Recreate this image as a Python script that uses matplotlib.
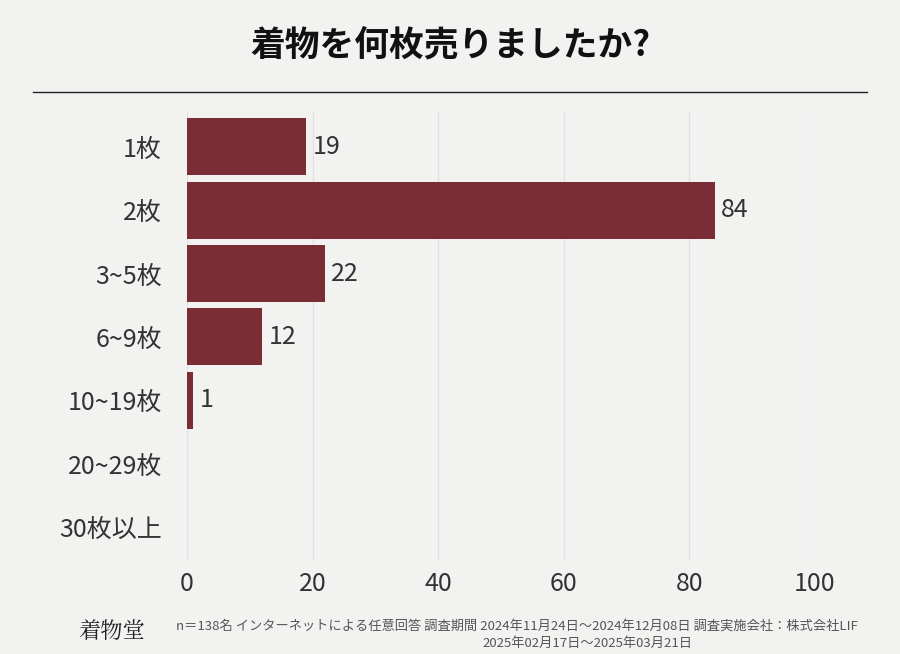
import matplotlib
matplotlib.use("Agg")
import matplotlib.pyplot as plt

plt.rcParams["font.family"] = ["Noto Sans CJK JP", "DejaVu Sans"]

categories = ["1枚", "2枚", "3~5枚", "6~9枚", "10~19枚", "20~29枚", "30枚以上"]
values = [19, 84, 22, 12, 1, 0, 0]
xticks = [0, 20, 40, 60, 80, 100]

bg = "#f2f2f1"
fig = plt.figure(figsize=(9, 6.54), dpi=100, facecolor=bg)
ax = fig.add_axes([187/900, 1-560/654, (815-187)/900, (560-112)/654], facecolor=bg)

y = list(range(len(categories)))
ax.barh(y, values, height=0.9, color="#7b2d35")
for yi, v in zip(y, values):
    if v > 0:
        ax.text(v + 1.0, yi, str(v), va="center", ha="left", fontsize=18, color="#333333")

ax.set_ylim(len(categories) - 0.5 + 0.02, -0.55)
ax.set_xlim(0, 100)
ax.set_xticks(xticks)
ax.set_xticklabels([str(t) for t in xticks], fontsize=18, color="#333333")
ax.set_yticks(y)
ax.set_yticklabels(categories, fontsize=18, color="#333333")
ax.tick_params(length=0, pad=18)
ax.tick_params(axis="x", pad=8)
ax.grid(axis="x", color="#e2e2e2", linewidth=1)
ax.set_axisbelow(True)
for s in ax.spines.values():
    s.set_visible(False)

fig.text(0.5, 1-45/654, "着物を何枚売りましたか?", ha="center", va="center",
         fontsize=25, fontweight="bold", color="#111111")
fig.add_artist(plt.Line2D([33/900, 867/900], [1-92/654, 1-92/654], color="#222222", linewidth=1))

fig.text(78/900, 1-632/654, "着物堂", ha="left", va="center", fontsize=16, color="#222222",
         family="Noto Serif CJK JP")
fig.text(517/900, 1-626/654, "n＝138名 インターネットによる任意回答 調査期間 2024年11月24日～2024年12月08日 調査実施会社：株式会社LIF",
         ha="center", va="center", fontsize=9.5, color="#555555")
fig.text(587/900, 1-643/654, "2025年02月17日～2025年03月21日", ha="center", va="center",
         fontsize=9.5, color="#555555")

fig.savefig("out.png", dpi=100, facecolor=bg)
